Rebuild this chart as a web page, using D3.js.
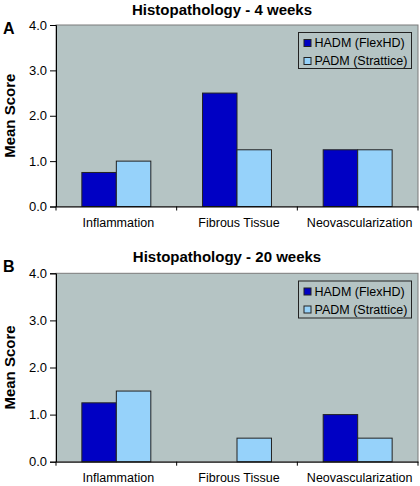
<!DOCTYPE html>
<html><head><meta charset="utf-8">
<script src="https://cdn.jsdelivr.net/npm/d3@7"></script>
<style>
html,body{margin:0;padding:0;background:#fff;}
svg{display:block;font-family:Arial,"Liberation Sans",sans-serif;}
</style></head>
<body>
<svg id="chart" width="420" height="486"></svg>
<script>
const categories = ["Inflammation", "Fibrous Tissue", "Neovascularization"];
const seriesNames = ["HADM (FlexHD)", "PADM (Strattice)"];
const seriesColors = ["#0000c4", "#96d2fa"];
const hadm4 = [0.75, 2.5, 1.25];
const padm4 = [1.0, 1.25, 1.25];
const hadm20 = [1.25, 0, 1.0];
const padm20 = [1.5, 0.5, 0.5];
const yTicks = [0, 1, 2, 3, 4];
const yTickLabels = ["0.0", "1.0", "2.0", "3.0", "4.0"];
const panelTitles = ["Histopathology - 4 weeks", "Histopathology - 20 weeks"];
const panelLetters = ["A", "B"];

const svg = d3.select("#chart");
const BG = "#b5c4c4";

function drawPanel(opt) {
  const g = svg.append("g");
  const x0 = d3.scaleBand().domain(categories).range([opt.left, opt.right]).paddingInner(0).paddingOuter(0);
  const x1 = d3.scaleBand().domain(seriesNames).range([0, x0.bandwidth()]).paddingInner(0).paddingOuter(0.75);
  const y = d3.scaleLinear().domain([0, 4]).range([opt.bottom, opt.top]);

  // plot background
  g.append("rect").attr("x", opt.left).attr("y", opt.top)
    .attr("width", opt.right - opt.left).attr("height", opt.bottom - opt.top)
    .attr("fill", BG).attr("stroke", "#7a7a7a").attr("stroke-width", 1);

  // bars
  const rows = categories.map((c, i) => ({cat: c, vals: [opt.h[i], opt.p[i]]}));
  const cg = g.selectAll(".cat").data(rows).join("g")
    .attr("transform", d => `translate(${x0(d.cat)},0)`);
  cg.selectAll("rect").data(d => d.vals.map((v, j) => ({s: seriesNames[j], v, j})))
    .join("rect")
    .filter(d => d.v > 0)
    .attr("x", d => x1(d.s)).attr("width", x1.bandwidth())
    .attr("y", d => y(d.v)).attr("height", d => y(0) - y(d.v))
    .attr("fill", d => seriesColors[d.j]).attr("stroke", "#222").attr("stroke-width", 1);

  // y axis
  const yAxis = d3.axisLeft(y).tickValues(yTicks).tickFormat((d, i) => yTickLabels[i]).tickSize(6).tickPadding(3);
  const ya = g.append("g").attr("transform", `translate(${opt.left},0)`).call(yAxis);
  ya.select(".domain").attr("stroke", "#000");
  ya.selectAll("line").attr("stroke", "#000");
  ya.selectAll("text").attr("font-size", 13).attr("fill", "#000").attr("font-family", "Arial, Liberation Sans, sans-serif");

  // x axis
  const xAxis = d3.axisBottom(x0).tickSize(0).tickFormat("");
  const xa = g.append("g").attr("transform", `translate(0,${opt.bottom})`).call(xAxis);
  xa.select(".domain").attr("stroke", "#000");
  // boundary ticks
  const bounds = categories.map(c => x0(c)).concat([x0.range()[1]]);
  g.selectAll(".btick").data(bounds).join("line")
    .attr("x1", d => d).attr("x2", d => d)
    .attr("y1", opt.bottom).attr("y2", opt.bottom + 4)
    .attr("stroke", "#000");
  g.selectAll(".xlab").data(categories).join("text")
    .attr("x", d => x0(d) + x0.bandwidth() / 2 + 2)
    .attr("y", opt.xlabY)
    .attr("text-anchor", "middle").attr("font-size", 12.5).attr("fill", "#000")
    .text(d => d);

  // y label
  g.append("text")
    .attr("transform", `translate(15,${(opt.top + opt.bottom) / 2}) rotate(-90)`)
    .attr("text-anchor", "middle").attr("font-size", 15).attr("font-weight", "bold")
    .text("Mean Score");

  // title
  g.append("text").attr("x", opt.titleX).attr("y", opt.titleY)
    .attr("text-anchor", "middle").attr("font-size", 15).attr("font-weight", "bold")
    .text(opt.title);

  // letter
  g.append("text").attr("x", 3).attr("y", opt.letterY)
    .attr("font-size", 16).attr("font-weight", "bold").text(opt.letter);

  // legend
  const lg = g.append("g").attr("transform", `translate(${opt.legX},${opt.legY})`);
  lg.append("rect").attr("x", 0).attr("y", 0).attr("width", 113).attr("height", opt.legH)
    .attr("fill", BG).attr("stroke", "#222").attr("stroke-width", 1);
  seriesNames.forEach((s, i) => {
    const ry = 7 + i * opt.legStep;
    lg.append("rect").attr("x", 5.5).attr("y", ry).attr("width", 7).attr("height", 7)
      .attr("fill", seriesColors[i]).attr("stroke", "#222").attr("stroke-width", 1);
    lg.append("text").attr("x", 16).attr("y", ry + 7.5)
      .attr("font-size", 12.5).attr("fill", "#000").text(s);
  });
}

drawPanel({
  left: 56, right: 418, top: 25, bottom: 206.5,
  h: hadm4, p: padm4, xlabY: 227, title: panelTitles[0], titleX: 222, titleY: 15,
  letter: panelLetters[0], letterY: 33.5,
  legX: 298.5, legY: 32.5, legH: 36, legStep: 18
});
drawPanel({
  left: 56, right: 418, top: 273.3, bottom: 461.7,
  h: hadm20, p: padm20, xlabY: 482, title: panelTitles[1], titleX: 227, titleY: 261.5,
  letter: panelLetters[1], letterY: 272,
  legX: 298.5, legY: 281, legH: 37, legStep: 18
});
</script>
</body></html>
